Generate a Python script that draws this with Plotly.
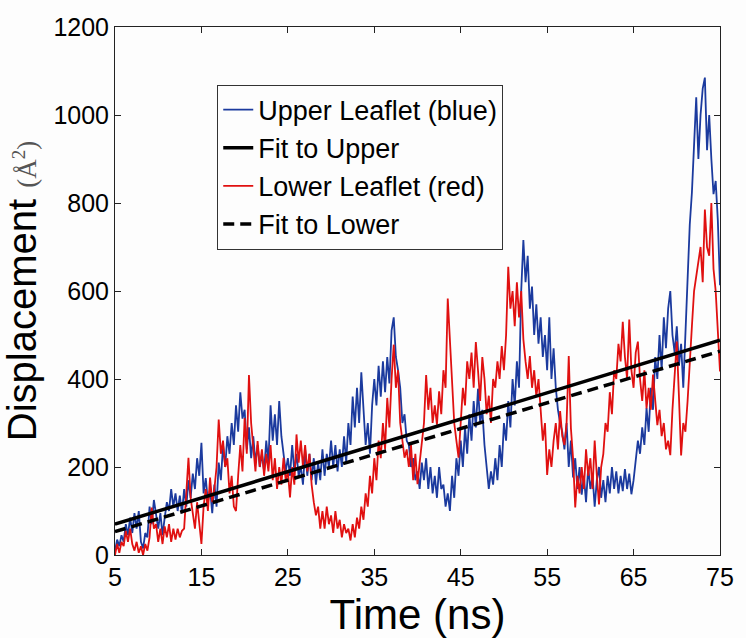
import plotly.graph_objects as go

# Time axis samples (ns), every 0.25 ns from 5 to 75
t_start, t_step = 5.0, 0.25

upper_leaflet = [
    10, 35, 20, 45,  30, 70, 45, 85,  50, 95, 60, 100,  30, 15, 50, 40,
    110, 70, 125, 95,  60, 95, 45, 85,  120, 100, 150, 110,  140, 100, 135, 95,
    150, 110, 170, 130,  185, 150, 220, 180,  255, 140, 175, 120,  150, 95, 160, 110,
    210, 170, 250, 200,  270, 230, 300, 250,  340, 280, 370, 310,  330, 240, 290, 220,
    270, 210, 250, 200,  230, 190, 260, 210,  340, 260, 320, 250,  350, 270, 230, 190,
    220, 180, 250, 190,  230, 180, 200, 160,  240, 180, 230, 170,  220, 160, 210, 170,
    240, 180, 230, 200,  260, 200, 250, 190,  240, 200, 270, 210,  300, 250, 360, 290,
    380, 300, 415, 330,  250, 300, 230, 340,  400, 340, 430, 360,  440, 370, 450, 390,
    510, 540, 450, 420,  380, 300, 320, 260,  250, 200, 220, 170,  190, 150, 210, 170,
    220, 150, 200, 140,  180, 130, 200, 150,  160, 110, 140, 100,  180, 130, 220, 180,
    260, 200, 290, 230,  320, 260, 350, 290,  378, 300, 330, 250,  200, 150, 190, 160,
    220, 170, 250, 200,  300, 260, 350, 290,  400, 340, 440, 380,  600, 716, 620, 680,
    560, 610, 500, 570,  480, 540, 450, 500,  420, 540, 400, 470,  380, 330, 300, 280,
    240, 300, 200, 260,  176, 220, 150, 200,  137, 180, 120, 200,  150, 180, 110, 170,
    200, 130, 170, 120,  180, 140, 200, 150,  190, 140, 180, 145,  195, 150, 185, 138,
    170, 220, 260, 230,  290, 250, 334, 280,  380, 330, 450, 400,  500, 420, 540, 470,
    560, 600, 500, 460,  520, 430, 480, 380,  500, 600, 750, 824,  950, 1040, 900, 1000,
    1060, 1085, 920, 1000,  900, 820, 850, 760,  613,
]

lower_leaflet = [
    0, 25, 5, 30,  20, 55, 30, 60,  25, 10, 30, 5,  20, 0, 25, 10,
    40, 108, 60, 70,  30, 60, 25, 65,  40, 70, 30, 60,  35, 60, 40, 55,
    60, 150, 221, 130,  100, 60, 120, 70,  25, 110, 150, 100,  176, 120, 150, 200,
    308, 230, 260, 200,  220, 140, 180, 110,  100, 180, 250, 190,  311, 230, 409, 300,
    240, 190, 259, 200,  240, 180, 230, 190,  250, 170, 220, 150,  200, 160, 221, 170,
    190, 131, 200, 160,  274, 210, 260, 200,  250, 190, 230, 160,  120, 90, 110, 60,
    100, 60, 110, 70,  90, 50, 100, 60,  80, 40, 70, 50,  60, 33, 70, 40,
    85, 60, 110, 80,  140, 110, 180, 140,  220, 170, 260, 220,  300, 240, 357, 290,
    400, 478, 380, 420,  300, 260, 221, 240,  200, 250, 170, 230,  161, 210, 250, 300,
    409, 330, 380, 300,  340, 296, 372, 320,  420, 380, 583, 478,  372, 300, 260, 221,
    300, 380, 340, 440,  400, 460, 380, 484,  420, 350, 450, 400,  320, 362, 300, 400,
    380, 440, 400, 475,  420, 500, 655, 560,  600, 520, 620, 540,  600, 490, 440, 400,
    452, 380, 420, 360,  400, 318, 260, 300,  182, 240, 200, 260,  300, 240, 327, 270,
    250, 300, 452, 288,  220, 108, 180, 140,  200, 150, 240, 180,  220, 150, 260, 180,
    115, 200, 230, 300,  280, 370, 320, 420,  400, 480, 440, 530,  450, 400, 535, 420,
    380, 460, 485, 400,  350, 420, 333, 380,  330, 410, 360, 295,  330, 270, 300, 240,
    260, 227, 330, 400,  485, 360, 226, 300,  280, 350, 450, 520,  600, 633, 660, 700,
    620, 785, 700, 680,  800, 650, 600, 520,  417,
]

time_ns = [t_start + i * t_step for i in range(len(upper_leaflet))]

# Linear fits (end points)
fit_time = [5, 75]
fit_upper = [70, 488]
fit_lower = [53, 463]

x_ticks = [5, 15, 25, 35, 45, 55, 65, 75]
y_ticks = [0, 200, 400, 600, 800, 1000, 1200]

BLUE = "#1b3a9e"
RED = "#e01010"
FONT = "Liberation Sans"

fig = go.Figure()
fig.add_trace(go.Scatter(x=time_ns, y=upper_leaflet, mode="lines", name="Upper Leaflet (blue)",
                         line=dict(color=BLUE, width=1.8), legendgroup="a", legendrank=1))
fig.add_trace(go.Scatter(x=time_ns, y=lower_leaflet, mode="lines", name="Lower Leaflet (red)",
                         line=dict(color=RED, width=1.8), legendgroup="c", legendrank=3))
fig.add_trace(go.Scatter(x=fit_time, y=fit_upper, mode="lines", name="Fit to Upper",
                         line=dict(color="black", width=3.5), legendgroup="b", legendrank=2))
fig.add_trace(go.Scatter(x=fit_time, y=fit_lower, mode="lines", name="Fit to Lower",
                         line=dict(color="black", width=3.5, dash="11px,6px"), legendgroup="d", legendrank=4))

fig.update_layout(
    width=746, height=638,
    margin=dict(l=115, r=16, t=27, b=80),
    paper_bgcolor="#fdfdfd", plot_bgcolor="#fdfdfd",
    font=dict(family=FONT, color="black"),
    legend=dict(
        x=0.169, y=0.891, xanchor="left", yanchor="top",
        bgcolor="#fdfdfd", bordercolor="#333333", borderwidth=1,
        font=dict(family=FONT, size=27, color="black"),
        tracegroupgap=0, traceorder="grouped",
    ),
)
fig.update_xaxes(
    range=[5, 75], tickmode="array", tickvals=x_ticks, ticktext=[str(v) for v in x_ticks],
    showgrid=False, zeroline=False, showline=True, linecolor="#222", linewidth=1,
    mirror="ticks", ticks="inside", ticklen=6, tickcolor="#222",
    tickfont=dict(family=FONT, size=25),
    title=dict(text="Time (ns)", font=dict(family=FONT, size=42), standoff=6),
)
fig.update_yaxes(
    range=[0, 1200], tickmode="array", tickvals=y_ticks, ticktext=[str(v) for v in y_ticks],
    showgrid=False, zeroline=False, showline=True, linecolor="#222", linewidth=1,
    mirror="ticks", ticks="inside", ticklen=6, tickcolor="#222",
    tickfont=dict(family=FONT, size=25),
    title=dict(text="Displacement <span style='font-size:27px;font-family:Liberation Serif;color:#555'>(Å<sup>2</sup>)</span>",
               font=dict(family=FONT, size=40), standoff=4),
)

fig.write_html("out.html")
